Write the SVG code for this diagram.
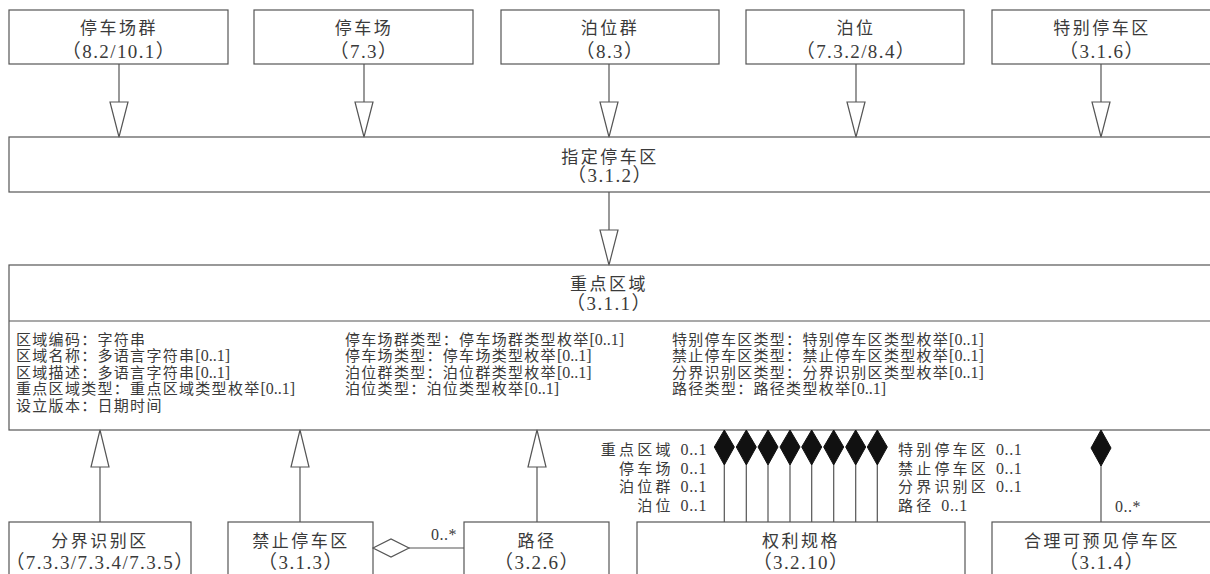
<svg xmlns="http://www.w3.org/2000/svg" width="1210" height="574" viewBox="0 0 1210 574">
<style>
text{font-family:"Liberation Serif","Noto Sans CJK SC",serif;fill:#3a3a3a}
.t{font-size:17px;letter-spacing:2.5px;text-anchor:middle}
.t.num{font-size:19px;letter-spacing:1.4px}
.a{font-size:15px;letter-spacing:1.3px}
.a tspan.n{letter-spacing:0;font-size:16px}
.l{font-size:15px;letter-spacing:3.2px}
.l tspan.n{letter-spacing:0.6px;font-size:16px}
.m{font-size:16px;letter-spacing:0.5px}
.box{fill:#fff;stroke:#555;stroke-width:1.2}
.ln{fill:none;stroke:#555;stroke-width:1.2}
.tri{fill:#fff;stroke:#555;stroke-width:1.2}
.dia{fill:#111;stroke:#111;stroke-width:1}
.hd{fill:#fff;stroke:#555;stroke-width:1.2}
</style>
<rect width="1210" height="574" fill="#fff"/>

<g id="n-tingchechangqun"><rect class="box" x="9" y="10" width="219" height="54"/><text class="t" x="119" y="33.5">停车场群</text><text class="t num" x="119" y="58">（8.2/10.1）</text></g>
<g id="n-tingchechang"><rect class="box" x="254" y="10" width="219" height="54"/><text class="t" x="364" y="33.5">停车场</text><text class="t num" x="364" y="58">（7.3）</text></g>
<g id="n-boweiqun"><rect class="box" x="501" y="10" width="218" height="54"/><text class="t" x="610" y="33.5">泊位群</text><text class="t num" x="610" y="58">（8.3）</text></g>
<g id="n-bowei"><rect class="box" x="746" y="10" width="218" height="54"/><text class="t" x="856" y="33.5">泊位</text><text class="t num" x="856" y="58">（7.3.2/8.4）</text></g>
<g id="n-tebietingchequ"><rect class="box" x="992" y="10" width="230" height="54"/><text class="t" x="1102" y="33.5">特别停车区</text><text class="t num" x="1102" y="58">（3.1.6）</text></g>

<g id="n-zhidingtingchequ"><rect class="box" x="9" y="137" width="1213" height="55"/><text class="t" x="610" y="162.5">指定停车区</text><text class="t num" x="610" y="181.5">（3.1.2）</text></g>

<g id="n-zhongdianquyu">
<rect class="box" x="9" y="265" width="1213" height="165"/>
<line class="ln" x1="9" y1="321" x2="1222" y2="321"/>
<text class="t" x="609" y="289.5">重点区域</text><text class="t num" x="609" y="309.5">（3.1.1）</text>
<text class="a" x="16" y="344.5">区域编码：字符串</text>
<text class="a" x="16" y="361">区域名称：多语言字符串<tspan class="n">[0..1]</tspan></text>
<text class="a" x="16" y="377.7">区域描述：多语言字符串<tspan class="n">[0..1]</tspan></text>
<text class="a" x="16" y="394.3">重点区域类型：重点区域类型枚举<tspan class="n">[0..1]</tspan></text>
<text class="a" x="16" y="411">设立版本：日期时间</text>
<text class="a" x="345" y="344.5">停车场群类型：停车场群类型枚举<tspan class="n">[0..1]</tspan></text>
<text class="a" x="345" y="361">停车场类型：停车场类型枚举<tspan class="n">[0..1]</tspan></text>
<text class="a" x="345" y="377.7">泊位群类型：泊位群类型枚举<tspan class="n">[0..1]</tspan></text>
<text class="a" x="345" y="394.3">泊位类型：泊位类型枚举<tspan class="n">[0..1]</tspan></text>
<text class="a" x="672" y="344.5">特别停车区类型：特别停车区类型枚举<tspan class="n">[0..1]</tspan></text>
<text class="a" x="672" y="361">禁止停车区类型：禁止停车区类型枚举<tspan class="n">[0..1]</tspan></text>
<text class="a" x="672" y="377.7">分界识别区类型：分界识别区类型枚举<tspan class="n">[0..1]</tspan></text>
<text class="a" x="672" y="394.3">路径类型：路径类型枚举<tspan class="n">[0..1]</tspan></text>
</g>

<g id="n-fenjieshibiequ"><rect class="box" x="9" y="522" width="182" height="60"/><text class="t" x="100" y="546.5">分界识别区</text><text class="t num" x="100" y="568.5">（7.3.3/7.3.4/7.3.5）</text></g>
<g id="n-jinzhitingchequ"><rect class="box" x="228" y="522" width="145" height="60"/><text class="t" x="301" y="546.5">禁止停车区</text><text class="t num" x="301" y="568.5">（3.1.3）</text></g>
<g id="n-lujing"><rect class="box" x="464" y="522" width="145" height="60"/><text class="t" x="537" y="546.5">路径</text><text class="t num" x="537" y="568.5">（3.2.6）</text></g>
<g id="n-quliguige"><rect class="box" x="637" y="522" width="328" height="60"/><text class="t" x="801" y="546.5">权利规格</text><text class="t num" x="801" y="568.5">（3.2.10）</text></g>
<g id="n-helikeyujian"><rect class="box" x="992" y="522" width="230" height="60"/><text class="t" x="1102" y="546.5">合理可预见停车区</text><text class="t num" x="1102" y="568.5">（3.1.4）</text></g>

<g id="connectors">
<path class="ln" d="M119 64V102M364 64V102M609 64V102M856 64V102M1101 64V102M609 192V230M100 522V467M300 522V467M537 522V467"/>
<polygon class="tri" points="110,102 128,102 119,137"/>
<polygon class="tri" points="355,102 373,102 364,137"/>
<polygon class="tri" points="600,102 618,102 609,137"/>
<polygon class="tri" points="847,102 865,102 856,137"/>
<polygon class="tri" points="1092,102 1110,102 1101,137"/>
<polygon class="tri" points="600,230 618,230 609,265"/>
<polygon class="tri" points="91,467 109,467 100,430"/>
<polygon class="tri" points="291,467 309,467 300,430"/>
<polygon class="tri" points="528,467 546,467 537,430"/>

<line class="ln" x1="409" y1="548" x2="464" y2="548"/>
<polygon class="hd" points="373,548 391,539 409,548 391,557"/>
<text class="m" x="431" y="540">0..*</text>

<path class="ln" d="M724.3 465V522M746.3 465V522M768 465V522M790 465V522M811.7 465V522M833.7 465V522M855.7 465V522M877.3 465V522M1101 465V522"/>
<polygon class="dia" points="724.3,430 734.3,447 724.3,465 714.3,447"/>
<polygon class="dia" points="746.3,430 756.3,447 746.3,465 736.3,447"/>
<polygon class="dia" points="768,430 778,447 768,465 758,447"/>
<polygon class="dia" points="790,430 800,447 790,465 780,447"/>
<polygon class="dia" points="811.7,430 821.7,447 811.7,465 801.7,447"/>
<polygon class="dia" points="833.7,430 843.7,447 833.7,465 823.7,447"/>
<polygon class="dia" points="855.7,430 865.7,447 855.7,465 845.7,447"/>
<polygon class="dia" points="877.3,430 887.3,447 877.3,465 867.3,447"/>
<polygon class="dia" points="1101,430 1111,448 1101,466 1091,448"/>

<text class="l" x="707" y="454.5" text-anchor="end">重点区域 <tspan class="n">0..1</tspan></text>
<text class="l" x="707" y="473.5" text-anchor="end">停车场 <tspan class="n">0..1</tspan></text>
<text class="l" x="707" y="492" text-anchor="end">泊位群 <tspan class="n">0..1</tspan></text>
<text class="l" x="707" y="510.5" text-anchor="end">泊位 <tspan class="n">0..1</tspan></text>
<text class="l" x="898" y="454.5">特别停车区 <tspan class="n">0..1</tspan></text>
<text class="l" x="898" y="473.5">禁止停车区 <tspan class="n">0..1</tspan></text>
<text class="l" x="898" y="492">分界识别区 <tspan class="n">0..1</tspan></text>
<text class="l" x="898" y="510.5">路径 <tspan class="n">0..1</tspan></text>
<text class="m" x="1115" y="512">0..*</text>
</g>
</svg>
